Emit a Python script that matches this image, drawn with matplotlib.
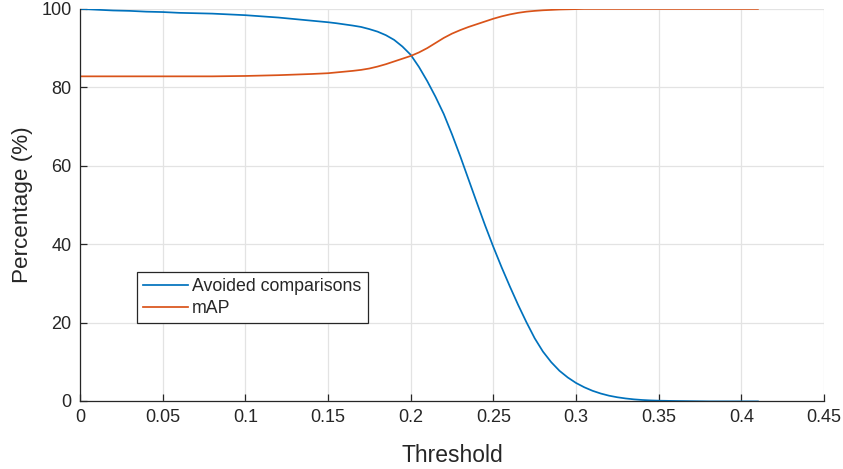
import numpy as np
import matplotlib.pyplot as plt

plt.rcParams['font.family'] = ['Liberation Sans', 'DejaVu Sans']

# threshold values (x axis), denser where the curves bend
threshold = [0.00, 0.01, 0.02, 0.03, 0.04, 0.05, 0.06, 0.07, 0.08, 0.09,
             0.10, 0.11, 0.12, 0.13, 0.14, 0.145,
             0.15, 0.155, 0.16, 0.165, 0.17, 0.175, 0.18, 0.185, 0.19, 0.195,
             0.20, 0.205, 0.21, 0.215, 0.22, 0.225, 0.23, 0.235, 0.24, 0.245,
             0.25, 0.255, 0.26, 0.265, 0.27, 0.275, 0.28, 0.285, 0.29, 0.295,
             0.30, 0.305, 0.31, 0.315, 0.32, 0.325, 0.33, 0.335, 0.34, 0.345,
             0.35, 0.36, 0.37, 0.38, 0.39, 0.40, 0.41]

avoided = [100.0, 99.8, 99.6, 99.5, 99.3, 99.2, 99.0, 98.9, 98.8, 98.6,
           98.4, 98.1, 97.8, 97.4, 97.0, 96.8,
           96.6, 96.35, 96.05, 95.75, 95.4, 94.85, 94.2, 93.3, 92.1, 90.4,
           88.3, 85.2, 81.6, 77.6, 73.2, 68.0, 62.4, 56.5, 50.6, 44.8,
           39.3, 34.1, 29.2, 24.5, 20.1, 16.0, 12.6, 9.9, 7.7, 6.0,
           4.6, 3.5, 2.6, 1.9, 1.35, 0.95, 0.65, 0.42, 0.26, 0.15,
           0.08, 0.0, -0.05, -0.1, -0.1, -0.1, -0.1]

mAP = [82.8, 82.8, 82.8, 82.8, 82.8, 82.8, 82.8, 82.8, 82.8, 82.85,
       82.9, 83.0, 83.1, 83.25, 83.4, 83.5,
       83.6, 83.8, 84.0, 84.2, 84.45, 84.8, 85.3, 85.9, 86.6, 87.3,
       88.0, 88.9, 90.0, 91.3, 92.6, 93.7, 94.6, 95.4, 96.1, 96.8,
       97.5, 98.1, 98.6, 99.0, 99.3, 99.5, 99.65, 99.75, 99.85, 99.9,
       99.95, 100.0, 100.0, 100.0, 100.0, 100.0, 100.0, 100.0, 100.0, 100.0,
       100.0, 100.0, 100.0, 100.0, 100.0, 100.0, 100.0]

xticks = [0, 0.05, 0.1, 0.15, 0.2, 0.25, 0.3, 0.35, 0.4, 0.45]
xticklabels = ['0', '0.05', '0.1', '0.15', '0.2', '0.25', '0.3', '0.35', '0.4', '0.45']
yticks = [0, 20, 40, 60, 80, 100]

fig = plt.figure(figsize=(8.43, 4.69), dpi=100)
ax = fig.add_axes([0.0949, 0.145, 0.8826, 0.836])

ax.plot(threshold, avoided, color='#0072BD', lw=1.25, label='Avoided comparisons')
ax.plot(threshold, mAP, color='#D95319', lw=1.25, label='mAP')

ax.set_xlim(0, 0.45)
ax.set_ylim(0, 100)
ax.set_xticks(xticks)
ax.set_xticklabels(xticklabels)
ax.set_yticks(yticks)
ax.grid(True, color='#e3e3e3', lw=0.9)
ax.set_axisbelow(True)

for s in ['top', 'right']:
    ax.spines[s].set_visible(False)
for s in ['left', 'bottom']:
    ax.spines[s].set_color('#262626')
    ax.spines[s].set_linewidth(0.9)

ax.tick_params(direction='in', length=5, width=0.9, colors='#262626',
               labelsize=13, pad=6)
ax.set_xlabel('Threshold', fontsize=16.5, color='#262626', va='center')
ax.set_ylabel('Percentage (%)', fontsize=16.2, color='#262626', va='center')
ax.xaxis.set_label_coords(0.5, -0.138)
ax.yaxis.set_label_coords(-0.077, 0.5)

leg = ax.legend(loc='lower left', bbox_to_anchor=(0.0766, 0.199), fontsize=12.8,
                fancybox=False, framealpha=1, edgecolor='#262626',
                handlelength=2.5, handletextpad=0.25, borderpad=0.35,
                labelspacing=0.25, borderaxespad=0)
leg.get_frame().set_linewidth(0.9)
for t in leg.get_texts():
    t.set_color('#262626')

fig.savefig('out.png', dpi=100, facecolor='w')
